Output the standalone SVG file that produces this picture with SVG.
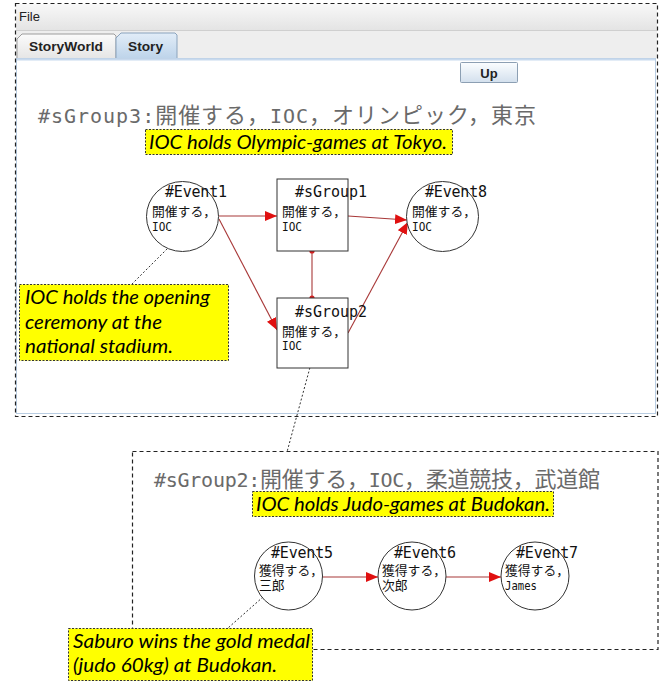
<svg xmlns="http://www.w3.org/2000/svg" width="664" height="681" viewBox="0 0 664 681">
<style>
.frame{fill:none;stroke:#222;stroke-width:1.2;stroke-dasharray:4 3}
.note rect{fill:#ffff00;stroke:#333;stroke-width:1;stroke-dasharray:2 1.5}
.note text{font-family:Lato,"Open Sans","Liberation Sans",sans-serif;font-style:italic;font-size:20px;fill:#000}
.shape{fill:#fff;stroke:#333;stroke-width:1}
.nt{font-family:"DejaVu Sans Mono","Noto Sans CJK JP",monospace;fill:#111}
.h{font-size:15px}
.j{font-size:12.8px}
.l{font-size:12px}
.title{font-family:"DejaVu Sans Mono","Noto Sans CJK JP",monospace;font-size:22px;fill:#6a6a6a}
.lat{font-size:20px}
.conn{stroke:#a83838;stroke-width:1.1;fill:none}
.dotl{stroke:#333;stroke-width:1;stroke-dasharray:2 2;fill:none}
.ui{font-family:"Liberation Sans",Arial,sans-serif;font-size:13px;fill:#222}
</style>
<defs>
<marker id="arr" markerUnits="userSpaceOnUse" markerWidth="13" markerHeight="11" refX="12" refY="5" orient="auto">
<path d="M0,0 L12,5 L0,10 z" fill="#e01010"/>
</marker>
<linearGradient id="menu" x1="0" y1="0" x2="0" y2="1"><stop offset="0" stop-color="#f8f8f8"/><stop offset="1" stop-color="#e4e4e4"/></linearGradient>
<linearGradient id="tab" x1="0" y1="0" x2="0" y2="1"><stop offset="0" stop-color="#fbfbfb"/><stop offset="1" stop-color="#e6e6e6"/></linearGradient>
<linearGradient id="tabsel" x1="0" y1="0" x2="0" y2="1"><stop offset="0" stop-color="#e2edf8"/><stop offset="1" stop-color="#bed4ea"/></linearGradient>
<linearGradient id="btn" x1="0" y1="0" x2="0" y2="1"><stop offset="0" stop-color="#fbfdff"/><stop offset="1" stop-color="#d3e0ed"/></linearGradient>
</defs>
<rect x="0" y="0" width="664" height="681" fill="#fff"/>

<g id="window">
<rect x="16" y="4" width="641" height="26" fill="url(#menu)"/>
<line x1="16" y1="30.5" x2="657" y2="30.5" stroke="#cfcfcf"/>
<rect x="16" y="31" width="641" height="27" fill="#eeeeee"/>
<text class="ui" x="19" y="21" font-size="12.5">File</text>
<path d="M17,58 L17,39 L22,34 L114,34 L116,36 L116,58" fill="url(#tab)" stroke="#9c9c9c"/>
<path d="M116,58 L116,38 L121,33 L175,33 L177,35 L177,58" fill="url(#tabsel)" stroke="#8aa3bd"/>
<text class="ui" x="29" y="51" font-weight="bold" textLength="74" lengthAdjust="spacingAndGlyphs">StoryWorld</text>
<text class="ui" x="128" y="51" font-weight="bold" textLength="35" lengthAdjust="spacingAndGlyphs">Story</text>
<rect x="16.5" y="58.5" width="639" height="355" fill="#fff" stroke="#b9cde2"/>
<line x1="17" y1="59.5" x2="655" y2="59.5" stroke="#c8daee" stroke-width="2"/>
<rect x="460.5" y="62.5" width="57" height="20" rx="1" fill="url(#btn)" stroke="#8c9fb3"/>
<text class="ui" x="489" y="77.5" font-weight="bold" text-anchor="middle" fill="#1d2a3a">Up</text>
<rect class="frame" x="15.5" y="3.5" width="642" height="413"/>
</g>

<text id="title3" class="title" x="38" y="123" textLength="498" lengthAdjust="spacing"><tspan class="lat">#sGroup3:</tspan>開催する，<tspan class="lat">IOC</tspan>，オリンピック，東京</text>
<g id="note-olympic" class="note">
<rect x="145.5" y="129.5" width="307" height="25"/>
<text x="149" y="149" textLength="298" lengthAdjust="spacingAndGlyphs">IOC holds Olympic-games at Tokyo.</text>
</g>

<g id="connectors">
<line class="conn" x1="219" y1="216" x2="277" y2="216" marker-end="url(#arr)"/>
<line class="conn" x1="348" y1="216" x2="407" y2="220" marker-end="url(#arr)"/>
<line class="conn" x1="219" y1="219" x2="277" y2="330" marker-end="url(#arr)"/>
<line class="conn" x1="348" y1="333" x2="408" y2="222" marker-end="url(#arr)"/>
<line class="conn" x1="312" y1="251" x2="312" y2="298"/>
<circle cx="312" cy="251" r="2.6" fill="#d42020"/>
<circle cx="312" cy="298" r="2.6" fill="#d42020"/>
<line class="conn" x1="322" y1="577" x2="378" y2="577" marker-end="url(#arr)"/>
<line class="conn" x1="446" y1="577" x2="501" y2="577" marker-end="url(#arr)"/>
<line class="dotl" x1="170" y1="246" x2="132" y2="284"/>
<line class="dotl" x1="312" y1="360" x2="287" y2="452"/>
<line class="dotl" x1="263" y1="597" x2="228" y2="628"/>
</g>

<g id="event1">
<ellipse class="shape" cx="182.5" cy="216.5" rx="36" ry="35"/>
<text class="nt h" x="165" y="197" textLength="62" lengthAdjust="spacing">#Event1</text>
<text class="nt j" x="152" y="216">開催する，</text>
<text class="nt l" x="152" y="231" textLength="20" lengthAdjust="spacingAndGlyphs">IOC</text>
</g>
<g id="sgroup1">
<rect class="shape" x="277" y="179" width="71" height="72"/>
<text class="nt h" x="295" y="197" textLength="72" lengthAdjust="spacing">#sGroup1</text>
<text class="nt j" x="282" y="216">開催する，</text>
<text class="nt l" x="282" y="231" textLength="20" lengthAdjust="spacingAndGlyphs">IOC</text>
</g>
<g id="event8">
<ellipse class="shape" cx="442.5" cy="216.5" rx="36" ry="35"/>
<text class="nt h" x="425" y="197" textLength="62" lengthAdjust="spacing">#Event8</text>
<text class="nt j" x="412" y="216">開催する，</text>
<text class="nt l" x="412" y="231" textLength="20" lengthAdjust="spacingAndGlyphs">IOC</text>
</g>
<g id="sgroup2">
<rect class="shape" x="277" y="298" width="71" height="70"/>
<text class="nt h" x="295" y="317" textLength="72" lengthAdjust="spacing">#sGroup2</text>
<text class="nt j" x="282" y="336">開催する，</text>
<text class="nt l" x="282" y="350" textLength="20" lengthAdjust="spacingAndGlyphs">IOC</text>
</g>

<g id="note-opening" class="note">
<rect x="19.5" y="284.5" width="209" height="76"/>
<text x="25" y="304" textLength="185" lengthAdjust="spacingAndGlyphs">IOC holds the opening</text>
<text x="25" y="329" textLength="137" lengthAdjust="spacingAndGlyphs">ceremony at the</text>
<text x="25" y="353" textLength="148" lengthAdjust="spacingAndGlyphs">national stadium.</text>
</g>

<g id="sgroup2-panel">
<rect class="frame" x="132.5" y="451.5" width="525.5" height="198"/>
<text class="title" x="154" y="487" textLength="446" lengthAdjust="spacing"><tspan class="lat">#sGroup2:</tspan>開催する，<tspan class="lat">IOC</tspan>，柔道競技，武道館</text>
</g>
<g id="note-judo" class="note">
<rect x="252.5" y="491.5" width="301" height="25"/>
<text x="256" y="511" textLength="294" lengthAdjust="spacingAndGlyphs">IOC holds Judo-games at Budokan.</text>
</g>

<g id="event5">
<circle class="shape" cx="288.5" cy="576" r="34"/>
<text class="nt h" x="271" y="557.5" textLength="62" lengthAdjust="spacing">#Event5</text>
<text class="nt j" x="259" y="574.5">獲得する，</text>
<text class="nt j" x="259" y="590">三郎</text>
</g>
<g id="event6">
<circle class="shape" cx="412" cy="576" r="34"/>
<text class="nt h" x="394" y="557.5" textLength="62" lengthAdjust="spacing">#Event6</text>
<text class="nt j" x="382" y="574.5">獲得する，</text>
<text class="nt j" x="382" y="590">次郎</text>
</g>
<g id="event7">
<circle class="shape" cx="535" cy="576" r="34"/>
<text class="nt h" x="516" y="557.5" textLength="62" lengthAdjust="spacing">#Event7</text>
<text class="nt j" x="505" y="574.5">獲得する，</text>
<text class="nt l" x="505" y="590" textLength="32" lengthAdjust="spacingAndGlyphs">James</text>
</g>

<g id="note-saburo" class="note">
<rect x="68.5" y="628.5" width="244" height="52"/>
<text x="73" y="648" textLength="237" lengthAdjust="spacingAndGlyphs">Saburo wins the gold medal</text>
<text x="73" y="672" textLength="204" lengthAdjust="spacingAndGlyphs">(judo 60kg) at Budokan.</text>
</g>
</svg>
